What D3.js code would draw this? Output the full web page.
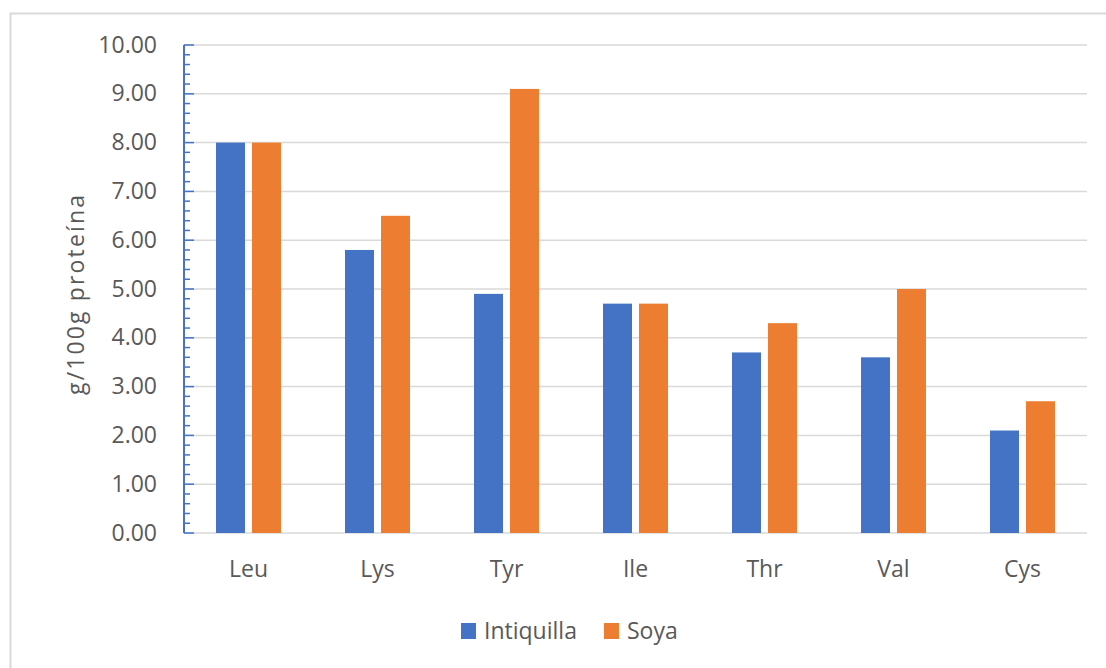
<!DOCTYPE html>
<html>
<head>
<meta charset="utf-8">
<script src="https://cdn.jsdelivr.net/npm/d3@7"></script>
<style>
  html, body { margin: 0; padding: 0; background: #fff; }
  svg { display: block; }
  text { font-family: "Open Sans", Lato, sans-serif; fill: #595959; }
</style>
</head>
<body>
<svg id="chart" width="1106" height="668"></svg>
<script>
// Amino acid content (g/100g protein)
const categories = ["Leu", "Lys", "Tyr", "Ile", "Thr", "Val", "Cys"];
const intiquilla = [8.0, 5.8, 4.9, 4.7, 3.7, 3.6, 2.1];
const soya = [8.0, 6.5, 9.1, 4.7, 4.3, 5.0, 2.7];
const seriesNames = ["Intiquilla", "Soya"];
const seriesColors = ["#4472C4", "#ED7D31"];
const yTicks = [0, 1, 2, 3, 4, 5, 6, 7, 8, 9, 10];
const yTitle = "g/100g proteína";

const svg = d3.select("#chart");
const W = 1106, H = 668;
const plot = { left: 184, right: 1087, top: 45, bottom: 533 };
const fontSize = "23px";

// outer chart frame
svg.append("rect")
  .attr("x", 10.5).attr("y", 13.5)
  .attr("width", W + 20).attr("height", H + 20)
  .attr("fill", "#fff").attr("stroke", "#d9d9d9").attr("stroke-width", 2);

const x = d3.scaleBand().domain(categories).range([plot.left, plot.right]);
const y = d3.scaleLinear().domain([0, 10]).range([plot.bottom, plot.top]);

// horizontal gridlines
svg.append("g").selectAll("line").data(yTicks.slice(1)).join("line")
  .attr("x1", plot.left).attr("x2", plot.right)
  .attr("y1", d => y(d)).attr("y2", d => y(d))
  .attr("stroke", "#d9d9d9").attr("stroke-width", 1.5);

// category axis baseline
svg.append("line")
  .attr("x1", plot.left).attr("x2", plot.right)
  .attr("y1", y(0)).attr("y2", y(0))
  .attr("stroke", "#d9d9d9").attr("stroke-width", 1.5);

// bars
const barW = 29, gap = 7;
const rows = categories.map((c, i) => ({ c, vals: [intiquilla[i], soya[i]] }));
const groups = svg.append("g").selectAll("g").data(rows).join("g");
groups.selectAll("rect").data(d => d.vals.map((v, k) => ({ c: d.c, v, k }))).join("rect")
  .attr("x", d => {
    const cx = x(d.c) + x.bandwidth() / 2;
    return d.k === 0 ? cx - gap / 2 - barW : cx + gap / 2;
  })
  .attr("y", d => y(d.v))
  .attr("width", barW)
  .attr("height", d => y(0) - y(d.v))
  .attr("fill", d => seriesColors[d.k]);

// value axis: blue line with inside major/minor ticks
const yAxisG = svg.append("g").attr("transform", `translate(${plot.left},0)`);
const minor = d3.range(0, 10.001, 0.2).filter(v => Math.abs(v - Math.round(v)) > 1e-6);
yAxisG.selectAll("line.minor").data(minor).join("line").attr("class", "minor")
  .attr("x1", 0).attr("x2", 6).attr("y1", d => y(d)).attr("y2", d => y(d))
  .attr("stroke", "#4472C4").attr("stroke-width", 1.5);
yAxisG.selectAll("line.major").data(yTicks).join("line").attr("class", "major")
  .attr("x1", 0).attr("x2", 10).attr("y1", d => y(d)).attr("y2", d => y(d))
  .attr("stroke", "#4472C4").attr("stroke-width", 1.5);
yAxisG.append("line").attr("x1", 0).attr("x2", 0)
  .attr("y1", y(10)).attr("y2", y(0))
  .attr("stroke", "#4472C4").attr("stroke-width", 2);
yAxisG.selectAll("text").data(yTicks).join("text")
  .attr("x", -27).attr("y", d => y(d) + 7.5)
  .attr("text-anchor", "end").style("font-size", fontSize)
  .text(d => d3.format(".2f")(d));

// category labels
svg.append("g").selectAll("text").data(categories).join("text")
  .attr("x", d => x(d) + x.bandwidth() / 2).attr("y", 577)
  .attr("text-anchor", "middle").style("font-size", fontSize)
  .text(d => d);

// y-axis title
svg.append("text")
  .attr("transform", "translate(84,295) rotate(-90)")
  .attr("text-anchor", "middle").style("font-size", fontSize)
  .attr("textLength", 200).attr("lengthAdjust", "spacing")
  .text(yTitle);

// legend
const legend = [{ x: 461, name: seriesNames[0], color: seriesColors[0] },
                { x: 604, name: seriesNames[1], color: seriesColors[1] }];
const lg = svg.append("g").selectAll("g").data(legend).join("g")
  .attr("transform", d => `translate(${d.x},639)`);
lg.append("rect").attr("x", 0).attr("y", -16).attr("width", 15).attr("height", 16)
  .attr("fill", d => d.color);
lg.append("text").attr("x", 23).attr("y", 0)
  .style("font-size", fontSize).text(d => d.name);
</script>
</body>
</html>
